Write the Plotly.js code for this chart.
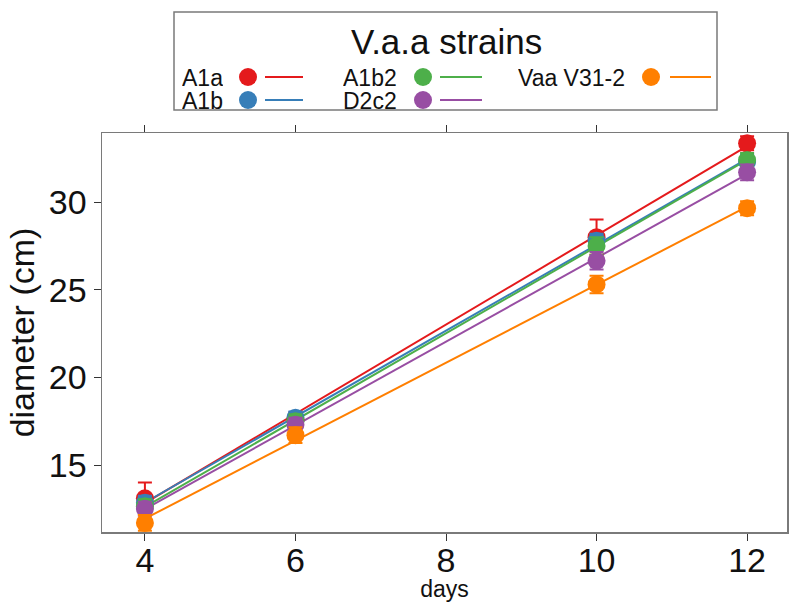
<!DOCTYPE html>
<html>
<head>
<meta charset="utf-8">
<script src="https://cdn.plot.ly/plotly-3.0.1.min.js"></script>
<style>
  html, body { margin: 0; padding: 0; background: #ffffff; }
  #chart { width: 789px; height: 602px; }
</style>
</head>
<body>
<div id="chart"></div>
<script>
// ---- data ----
const days = [4, 6, 10, 12];
const strains = ["A1a", "A1b", "A1b2", "D2c2", "Vaa V31-2"];
const colors = ["#E41A1C", "#377EB8", "#4DAF4A", "#984EA3", "#FF7F00"];

const meanA1a  = [13.1, 17.6, 28.0, 33.35];
const meanA1b  = [12.85, 17.7, 27.8, 32.3];
const meanA1b2 = [12.65, 17.5, 27.5, 32.4];
const meanD2c2 = [12.5, 17.3, 26.65, 31.7];
const meanVaa  = [11.7, 16.7, 25.3, 29.65];

const seA1a  = [0.9, 0.4, 1.0, 0.4];
const seA1b  = [0.4, 0.35, 0.4, 0.4];
const seA1b2 = [0.4, 0.4, 0.5, 0.4];
const seD2c2 = [0.4, 0.4, 0.5, 0.45];
const seVaa  = [0.45, 0.45, 0.5, 0.4];

const xTicks = [4, 6, 8, 10, 12];
const yTicks = [15, 20, 25, 30];

const means = [meanA1a, meanA1b, meanA1b2, meanD2c2, meanVaa];
const errs  = [seA1a, seA1b, seA1b2, seD2c2, seVaa];

// least-squares fit line through the means
function fit(xs, ys) {
  const n = xs.length;
  const mx = xs.reduce((a, b) => a + b, 0) / n;
  const my = ys.reduce((a, b) => a + b, 0) / n;
  let sxy = 0, sxx = 0;
  for (let i = 0; i < n; i++) { sxy += (xs[i] - mx) * (ys[i] - my); sxx += (xs[i] - mx) ** 2; }
  const b = sxy / sxx, a = my - b * mx;
  const x0 = Math.min(...xs), x1 = Math.max(...xs);
  return { x: [x0, x1], y: [a + b * x0, a + b * x1] };
}

const traces = [];
strains.forEach((s, i) => {
  const f = fit(days, means[i]);
  traces.push({
    x: f.x, y: f.y, type: "scatter", mode: "lines",
    line: { color: colors[i], width: 2 }, showlegend: false, hoverinfo: "skip"
  });
});
strains.forEach((s, i) => {
  traces.push({
    x: days, y: means[i], type: "scatter", mode: "markers", name: s,
    marker: { color: colors[i], size: 18 },
    error_y: { type: "data", array: errs[i], visible: true, color: colors[i], thickness: 2, width: 7 },
    showlegend: false
  });
});

// ---- layout geometry (pixels) ----
const W = 789, H = 602;
const L = 102, R = 787, T = 133, B = 532;
const px = v => (v - L) / (R - L);
const py = v => (B - v) / (B - T);

const shapes = [];
const annotations = [];
const FONT = "Liberation Sans, Arial, sans-serif";

// legend box
shapes.push({ type: "rect", xref: "paper", yref: "paper",
  x0: px(174), x1: px(717), y0: py(110), y1: py(12),
  line: { color: "#7a7a7a", width: 1.5 }, fillcolor: "rgba(0,0,0,0)" });
annotations.push({ xref: "paper", yref: "paper", x: px(446), y: py(42),
  text: "V.a.a strains", showarrow: false, xanchor: "center", yanchor: "middle",
  font: { family: FONT, size: 35, color: "#111" } });

const colText = [181, 342, 517];
const colDot = [248, 423, 651];
const colLine = [[265, 303], [440, 482], [670, 711]];
const rowY = [77, 100];
strains.forEach((s, i) => {
  const c = Math.floor(i / 2), r = i % 2;
  const y = rowY[r];
  annotations.push({ xref: "paper", yref: "paper", x: px(colText[c]), y: py(y),
    text: s, showarrow: false, xanchor: "left", yanchor: "middle",
    height: 21, borderpad: 0,
    font: { family: FONT, size: 23, color: "#111" } });
  shapes.push({ type: "circle", xref: "paper", yref: "paper",
    x0: px(colDot[c] - 9), x1: px(colDot[c] + 9), y0: py(y + 9), y1: py(y - 9),
    fillcolor: colors[i], line: { width: 0 } });
  shapes.push({ type: "line", xref: "paper", yref: "paper",
    x0: px(colLine[c][0]), x1: px(colLine[c][1]), y0: py(y), y1: py(y),
    line: { color: colors[i], width: 2 } });
});

const layout = {
  width: W, height: H,
  margin: { l: L, r: W - R, t: T, b: H - B, pad: 0 },
  paper_bgcolor: "#ffffff", plot_bgcolor: "#ffffff",
  showlegend: false,
  font: { family: FONT, color: "#111" },
  xaxis: {
    range: [3.43, 12.53], tickvals: xTicks, ticktext: xTicks.map(String),
    showgrid: false, zeroline: false,
    showline: true, linecolor: "#7a7a7a", linewidth: 1.5, mirror: "ticks",
    ticks: "outside", ticklen: 7, tickcolor: "#333", tickwidth: 1,
    ticklabelstandoff: -9,
    tickfont: { family: FONT, size: 34, color: "#111" },
    title: { text: "days", font: { family: FONT, size: 23, color: "#111" }, standoff: 6 }
  },
  yaxis: {
    range: [11.18, 33.94], tickvals: yTicks, ticktext: yTicks.map(String),
    showgrid: false, zeroline: false,
    showline: true, linecolor: "#7a7a7a", linewidth: 1.5, mirror: true,
    ticks: "outside", ticklen: 7, tickcolor: "#333", tickwidth: 1,
    tickfont: { family: FONT, size: 34, color: "#111" },
    title: { text: "diameter (cm)", font: { family: FONT, size: 34, color: "#111" }, standoff: 4 }
  },
  shapes: shapes,
  annotations: annotations
};

Plotly.newPlot("chart", traces, layout, { displayModeBar: false, staticPlot: true });
</script>
</body>
</html>
